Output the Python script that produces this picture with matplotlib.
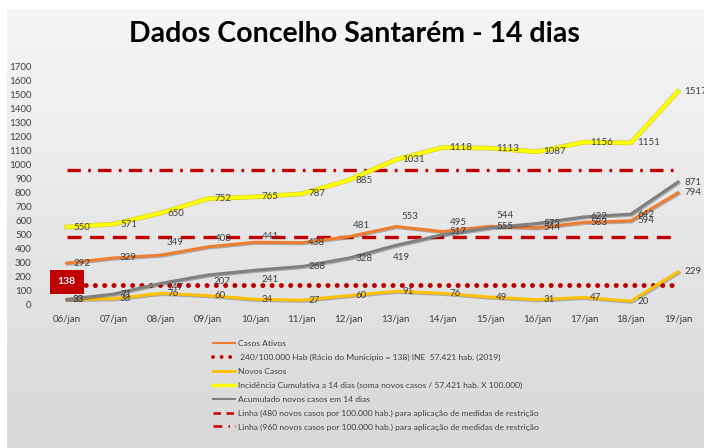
import numpy as np
import matplotlib.pyplot as plt
from matplotlib.lines import Line2D
import matplotlib.patheffects as pe

plt.rcParams['font.family'] = ['Lato', 'DejaVu Sans']

dias = ['06/jan', '07/jan', '08/jan', '09/jan', '10/jan', '11/jan', '12/jan',
        '13/jan', '14/jan', '15/jan', '16/jan', '17/jan', '18/jan', '19/jan']
casos_ativos = [292, 329, 349, 408, 441, 438, 481, 553, 517, 555, 544, 583, 594, 794]
novos_casos = [33, 38, 76, 60, 34, 27, 60, 91, 76, 49, 31, 47, 20, 229]
incidencia = [550, 571, 650, 752, 765, 787, 885, 1031, 1118, 1113, 1087, 1156, 1151, 1517]
acumulado = [33, 71, 147, 207, 241, 268, 328, 419, 495, 544, 575, 622, 642, 871]
racio_municipio = 138
linha_480 = 480
linha_960 = 960

legend_labels = [
    'Casos Ativos',
    ' 240/100.000 Hab (Rácio do Municipio = 138) INE  57.421 hab. (2019)',
    'Novos Casos',
    'Incidência Cumulativa a 14 dias (soma novos casos / 57.421 hab. X 100.000)',
    'Acumulado novos casos em 14 dias',
    'Linha (480 novos casos por 100.000 hab.) para aplicação de medidas de restrição',
    'Linha (960 novos casos por 100.000 hab.) para aplicação de medidas de restrição',
]

ORANGE = '#ED7D31'
GOLD = '#FFC000'
YELLOW = '#FFFF00'
GREY = '#808080'
RED = '#C00000'
TXT = '#404040'

fig = plt.figure(figsize=(7.04, 4.48), dpi=100)
fig.patch.set_facecolor('white')

# gradient background panel
bg = fig.add_axes([7 / 704, 0, 1 - 7 / 704, (448 - 9) / 448])
grad = np.linspace(0, 1, 256).reshape(-1, 1)
bg.imshow(grad, aspect='auto', cmap=plt.matplotlib.colors.LinearSegmentedColormap.from_list(
    'g', ['#f6f6f6', '#d8d8d8']), extent=[0, 1, 0, 1], origin='upper')
bg.axis('off')

fig.text(0.504, 0.925, 'Dados Concelho Santarém - 14 dias', ha='center', va='center',
         fontsize=20.5, fontweight='bold', color='black')

ax = fig.add_axes([40 / 704, (448 - 311) / 448, 660 / 704, 252 / 448])
ax.patch.set_alpha(0)
x = np.arange(len(dias))
n = len(dias)

ax.plot(x, [racio_municipio] * n, color=RED, lw=3.6, linestyle=(0, (0.01, 1.85)),
        dash_capstyle='round', zorder=2)
ax.plot(x, [linha_480] * n, color=RED, lw=2.4, linestyle=(0, (4.2, 2.6)), zorder=2)
ax.plot(x, [linha_960] * n, color=RED, lw=2.4, linestyle=(0, (4.0, 2.2, 0.8, 2.2)), zorder=2)

shadow = [pe.SimpleLineShadow(offset=(0.8, -0.8), alpha=0.25), pe.Normal()]
ax.plot(x, novos_casos, color=GOLD, lw=2.2, zorder=3, path_effects=shadow)
ax.plot(x, casos_ativos, color=ORANGE, lw=2.2, zorder=3, path_effects=shadow)
ax.plot(x, acumulado, color=GREY, lw=2.2, zorder=4, path_effects=shadow)
ax.plot(x, incidencia, color=YELLOW, lw=2.6, zorder=3,
        path_effects=[pe.Stroke(linewidth=3.4, foreground='#c8c830'), pe.Normal()])

ax.set_xlim(-0.57, 13.47)
ax.set_ylim(-50, 1750)
ax.set_yticks(range(0, 1701, 100))
ax.set_xticks(x)
ax.set_xticklabels(dias)
ax.tick_params(length=0, labelsize=7, labelcolor=TXT)
ax.tick_params(axis='y', pad=6)
ax.tick_params(axis='x', pad=3)
for s in ax.spines.values():
    s.set_visible(False)

# data labels, default to the right of the point
special = {
    'acum': {2: (4, -3, 'left'), 3: (4, -5, 'left'), 4: (5, -7, 'left'),
             7: (4, -9, 'center'), 8: (11, 9, 'center'), 9: (11, 9, 'center')},
    'ativos': {2: (4, 9, 'left'), 3: (5, 6, 'left'), 4: (5, 4, 'left'),
               6: (3, 8, 'left'), 7: (4, 7, 'left')},
}
series = [('novos', novos_casos), ('ativos', casos_ativos),
          ('acum', acumulado), ('inc', incidencia)]
for name, vals in series:
    for i, v in enumerate(vals):
        dx, dy, ha = special.get(name, {}).get(i, (4.5, 0, 'left'))
        ax.annotate(str(v), (i, v), xytext=(dx, dy), textcoords='offset points',
                    ha=ha, va='center', fontsize=7, color=TXT, zorder=6)

ax.annotate(str(racio_municipio), (0, racio_municipio), xytext=(0, 2),
            textcoords='offset points', ha='center', va='center', fontsize=7.5,
            fontweight='bold', color='white', zorder=7,
            bbox=dict(boxstyle='square,pad=0.75', fc=RED, ec='none'))

handles = [
    Line2D([], [], color=ORANGE, lw=1.5),
    Line2D([], [], color=RED, lw=2.8, linestyle=(0, (0.01, 2.2)), dash_capstyle='round'),
    Line2D([], [], color=GOLD, lw=2),
    Line2D([], [], color=YELLOW, lw=2.5),
    Line2D([], [], color=GREY, lw=1.5),
    Line2D([], [], color=RED, lw=1.8, linestyle=(0, (3, 2.2))),
    Line2D([], [], color=RED, lw=1.8, linestyle=(0, (3.5, 2.5, 0.6, 2))),
]
leg = fig.legend(handles, legend_labels, loc='upper left', bbox_to_anchor=(0.297, 0.25),
                 frameon=False, fontsize=6.1, handlelength=2.6, handletextpad=0.3,
                 labelspacing=0.8, borderpad=0)
for t in leg.get_texts():
    t.set_color(TXT)

fig.savefig('out.png', dpi=100)
